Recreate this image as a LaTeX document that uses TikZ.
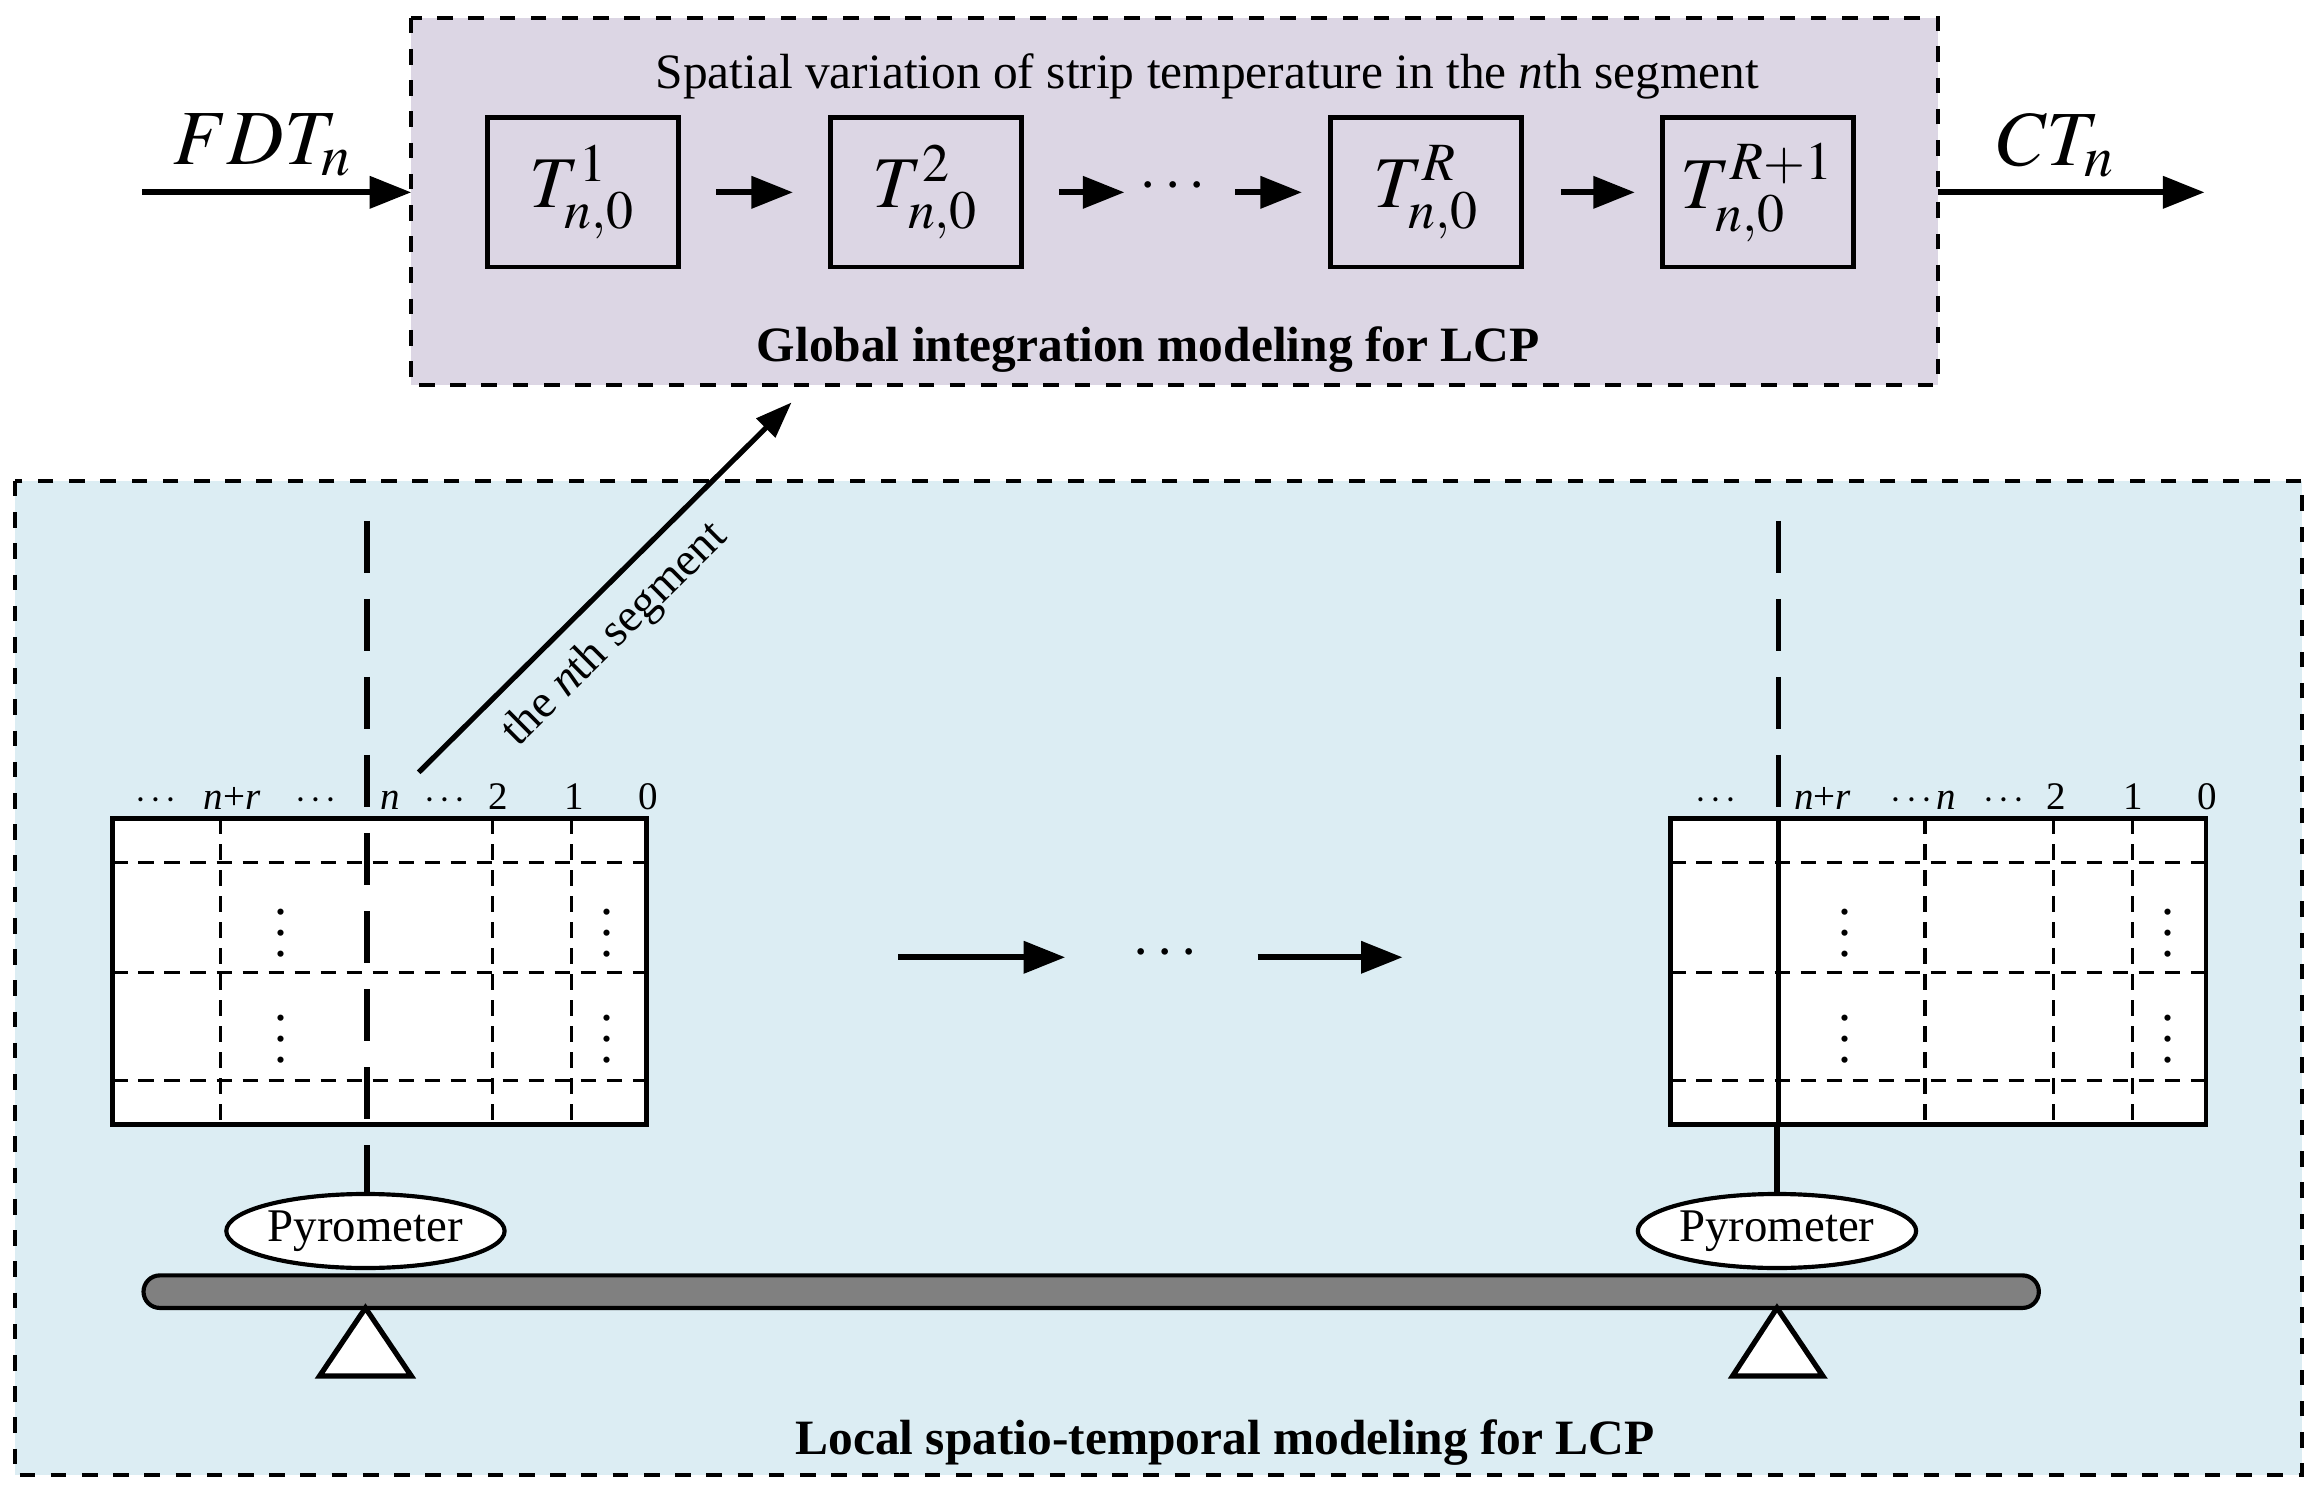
\documentclass[tikz,border=0pt]{standalone}
\usepackage{amsmath}
\usepackage{mathptmx}
\usepackage{fontspec}
\setmainfont{Liberation Serif}
\usetikzlibrary{arrows.meta,shapes.geometric}
\begin{document}
\begin{tikzpicture}[x=0.01cm,y=-0.01cm,
  arr/.style={-{Triangle[length=8pt,width=6pt]},line width=1.2pt},
  tbox/.style={draw,line width=0.9pt,minimum width=1.29cm,minimum height=1.01cm,font=\fontsize{14}{16}\selectfont},
  grid/.style={densely dashed,line width=0.6pt},
  lab/.style={font=\fontsize{7.5}{8}\selectfont,anchor=base},
  pyro/.style={draw,ellipse,line width=0.8pt,minimum width=1.88cm,minimum height=0.5cm,fill=white,font=\fontsize{9}{10}\selectfont,inner sep=0pt}]
\useasboundingbox (0,0) rectangle (1568,1010);
% containers
\draw[dashed,line width=0.8pt,fill={rgb,255:red,220;green,214;blue,228}] (278,12) rectangle (1310,260);
\draw[dashed,line width=0.8pt,fill={rgb,255:red,220;green,237;blue,243}] (10,325) rectangle (1556,997);
\node[font=\fontsize{9.5}{11}\selectfont] (title) at (816,52) {Spatial variation of strip temperature in the \emph{n}th segment};
\node[font=\bfseries\fontsize{9.5}{11}\selectfont] (glob) at (776,236) {Global integration modeling for LCP};
\node[font=\bfseries\fontsize{9.5}{11}\selectfont] (loc) at (828,975) {Local spatio-temporal modeling for LCP};
% T boxes
\node[tbox] (t1) at (394,130) {$T_{n,0}^{1}$};
\node[tbox] (t2) at (626,130) {$T_{n,0}^{2}$};
\node[tbox] (tR) at (964,130) {$T_{n,0}^{R}$};
\node[tbox] (tR1) at (1188,130) {$T_{n,0}^{R+1}$};
\node[font=\fontsize{12}{14}\selectfont] (d1) at (795,126) {$\boldsymbol{\cdots}$};
\coordinate (a1) at (484,130); \coordinate (b1) at (536,130);
\draw[arr] (a1) -- (b1);
\coordinate (a2) at (716,130); \coordinate (b2) at (760,130); \draw[arr] (a2) -- (b2);
\coordinate (a3) at (835,130); \coordinate (b3) at (880,130); \draw[arr] (a3) -- (b3);
\coordinate (a4) at (1055,130); \coordinate (b4) at (1105,130);
\draw[arr] (a4) -- (b4);
\node[font=\fontsize{15}{17}\selectfont] (fdt) at (178,98) {$FDT_n$};
\node[font=\fontsize{15}{17}\selectfont] (ct) at (1390,98) {$CT_n$};
\coordinate (fin) at (96,130); \coordinate (fout) at (278,130);
\draw[arr] (fin) -- (fout);
\coordinate (cin) at (1310,130); \coordinate (cout) at (1490,130);
\draw[arr] (cin) -- (cout);
% segment arrow
\coordinate (s0) at (283,522); \coordinate (s1) at (535,272);
\draw[-{Triangle[length=7pt,width=5pt]},line width=1pt] (s0) -- node[sloped,below,pos=0.45,font=\fontsize{9}{10}\selectfont]{the \emph{n}th segment} (s1);
% left table
\draw[line width=0.9pt,fill=white] (76,553) rectangle (437,760);
\foreach \y in {583,657,730} \draw[grid] (76,\y) -- (437,\y);
\foreach \x in {149,333,386} \draw[grid] (\x,553) -- (\x,760);
\coordinate (lt) at (248,352); \coordinate (lb) at (248,807);
\draw[line width=1.1pt,dash pattern=on 10pt off 5pt] (lt) -- (lb);
\foreach \x/\y in {190/620,190/692,410/620,410/692} \node[font=\fontsize{10}{10}\selectfont] at (\x,\y) {$\boldsymbol{\vdots}$};
\foreach \x/\t in {107/$\boldsymbol{\cdots}$,157/\emph{n}+\emph{r},215/$\boldsymbol{\cdots}$,264/\emph{n},302/$\boldsymbol{\cdots}$,337/2,388/1,438/0} \node[lab] at (\x,547) {\t};
\node[pyro] (p1) at (247,832) {Pyrometer};
% right table
\draw[line width=0.9pt,fill=white] (1129,553) rectangle (1491,760);
\foreach \y in {583,657,730} \draw[grid] (1129,\y) -- (1491,\y);
\foreach \x in {1301,1388,1441} \draw[grid] (\x,553) -- (\x,760);
\draw[line width=0.9pt] (1202,553) -- (1202,760);
\coordinate (rt) at (1202,352); \coordinate (rm) at (1202,553);
\draw[line width=1.1pt,dash pattern=on 10pt off 5pt] (rt) -- (rm);
\node[pyro] (p2) at (1201,832) {Pyrometer};
\coordinate (rb) at (1201,760);
\draw[line width=1pt] (rb) -- (p2.north);
\foreach \x/\y in {1247/620,1247/692,1465/620,1465/692} \node[font=\fontsize{10}{10}\selectfont] at (\x,\y) {$\boldsymbol{\vdots}$};
\foreach \x/\t in {1161/$\boldsymbol{\cdots}$,1232/\emph{n}+\emph{r},1300/$\boldsymbol{\cdots}$\emph{n},1356/$\boldsymbol{\cdots}$,1390/2,1442/1,1492/0} \node[lab] at (\x,547) {\t};
% middle arrows
\node[font=\fontsize{12}{14}\selectfont] (d2) at (790,645) {$\boldsymbol{\cdots}$};
\coordinate (m1) at (607,647); \coordinate (m2) at (720,647);
\draw[arr] (m1) -- (m2);
\coordinate (m3) at (850,647); \coordinate (m4) at (948,647);
\draw[arr] (m3) -- (m4);
% bar and supports
\draw[line width=0.8pt,fill={rgb,255:red,128;green,128;blue,128},rounded corners=0.11cm] (97,862) rectangle (1378,884);
\draw[line width=1pt,fill=white] (247,884) -- (278,930) -- (216,930) -- cycle;
\draw[line width=1pt,fill=white] (1201,884) -- (1232,930) -- (1171,930) -- cycle;
\end{tikzpicture}
\end{document}
